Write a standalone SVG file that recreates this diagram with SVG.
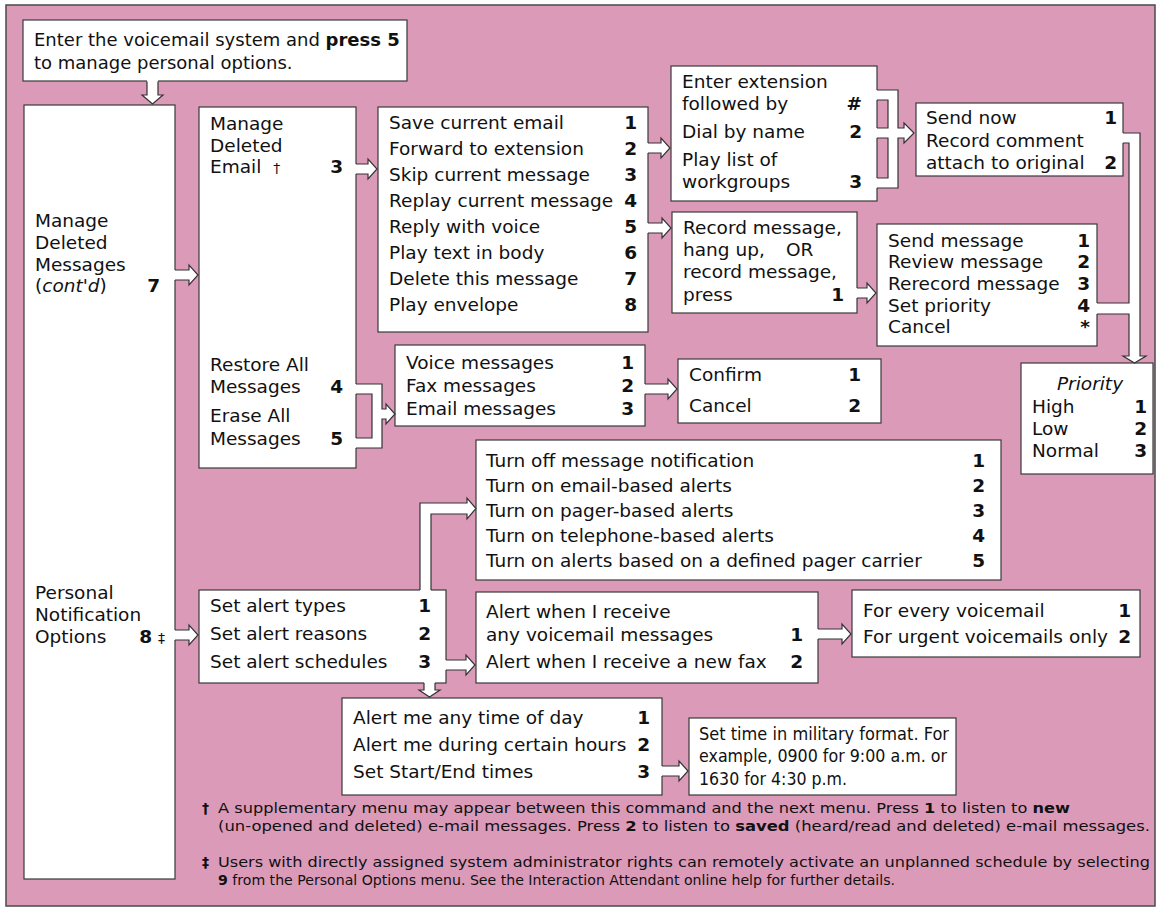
<svg xmlns="http://www.w3.org/2000/svg" width="1160" height="915" viewBox="0 0 1160 915">
<style>
text{font-family:"DejaVu Sans",Verdana,sans-serif;font-size:18.5px;fill:#111}
.b{font-weight:bold}
.n{font-weight:bold;text-anchor:end}
.i{font-style:italic}
.bx{fill:#fff;stroke:#3a3a3a;stroke-width:1.2}
.cf{fill:#fff;stroke:none}
.cs{fill:none;stroke:#333;stroke-width:1.2;stroke-linejoin:miter}
.fn{font-size:14px}
.sm{font-size:14px}
.tp{font-size:18px}
.st{font-size:17.5px}
</style>
<rect x="6" y="5" width="1149" height="901" fill="#dc9ab9" stroke="#4a4a4a" stroke-width="1.5"/>

<g id="n-top">
<rect class="bx" x="23" y="20" width="384" height="61"/>
<text class="tp" x="34" y="46">Enter the voicemail system and <tspan class="b">press 5</tspan></text>
<text class="tp" x="34" y="69">to manage personal options.</text>
</g>

<g id="n-left">
<rect class="bx" x="24" y="105" width="151" height="774"/>
<text x="35" y="227">Manage</text>
<text x="35" y="249">Deleted</text>
<text x="35" y="271">Messages</text>
<text x="35" y="292">(<tspan class="i">cont'd</tspan>)</text>
<text class="n" x="160" y="292">7</text>
<text x="35" y="599">Personal</text>
<text x="35" y="621">Notification</text>
<text x="35" y="643">Options</text>
<text class="n" x="152" y="643">8</text>
<text class="sm" x="158" y="643">‡</text>
</g>

<g id="n-mde">
<rect class="bx" x="199" y="107" width="157" height="361"/>
<text x="210" y="130">Manage</text>
<text x="210" y="152">Deleted</text>
<text x="210" y="173">Email <tspan class="sm" dx="6">†</tspan></text>
<text class="n" x="343" y="173">3</text>
<text x="210" y="371">Restore All</text>
<text x="210" y="393">Messages</text>
<text class="n" x="343" y="393">4</text>
<text x="210" y="422">Erase All</text>
<text x="210" y="445">Messages</text>
<text class="n" x="343" y="445">5</text>
</g>

<g id="n-email">
<rect class="bx" x="378" y="107" width="270" height="225"/>
<text x="389" y="129">Save current email</text><text class="n" x="637" y="129">1</text>
<text x="389" y="155">Forward to extension</text><text class="n" x="637" y="155">2</text>
<text x="389" y="181">Skip current message</text><text class="n" x="637" y="181">3</text>
<text x="389" y="207">Replay current message</text><text class="n" x="637" y="207">4</text>
<text x="389" y="233">Reply with voice</text><text class="n" x="637" y="233">5</text>
<text x="389" y="259">Play text in body</text><text class="n" x="637" y="259">6</text>
<text x="389" y="285">Delete this message</text><text class="n" x="637" y="285">7</text>
<text x="389" y="311">Play envelope</text><text class="n" x="637" y="311">8</text>
</g>

<g id="n-ext">
<rect class="bx" x="671" y="66" width="206" height="135"/>
<text x="682" y="88">Enter extension</text>
<text x="682" y="110">followed by</text><text class="n" x="862" y="110">#</text>
<text x="682" y="138">Dial by name</text><text class="n" x="862" y="138">2</text>
<text x="682" y="166">Play list of</text>
<text x="682" y="188">workgroups</text><text class="n" x="862" y="188">3</text>
</g>

<g id="n-sendnow">
<rect class="bx" x="916" y="103" width="207" height="73"/>
<text x="926" y="124">Send now</text><text class="n" x="1117" y="124">1</text>
<text x="926" y="147">Record comment</text>
<text x="926" y="169">attach to original</text><text class="n" x="1117" y="169">2</text>
</g>

<g id="n-record">
<rect class="bx" x="672" y="212" width="185" height="101"/>
<text x="683" y="234">Record message,</text>
<text x="683" y="256">hang up,</text><text x="786" y="256">OR</text>
<text x="683" y="278">record message,</text>
<text x="683" y="301">press</text><text class="n" x="844" y="301">1</text>
</g>

<g id="n-sendmsg">
<rect class="bx" x="877" y="224" width="220" height="122"/>
<text x="888" y="247">Send message</text><text class="n" x="1090" y="247">1</text>
<text x="888" y="268">Review message</text><text class="n" x="1090" y="268">2</text>
<text x="888" y="290">Rerecord message</text><text class="n" x="1090" y="290">3</text>
<text x="888" y="312">Set priority</text><text class="n" x="1090" y="312">4</text>
<text x="888" y="333">Cancel</text><text class="n" x="1090" y="333">*</text>
</g>

<g id="n-priority">
<rect class="bx" x="1021" y="363" width="132" height="111"/>
<text class="i" x="1090" y="390" text-anchor="middle">Priority</text>
<text x="1032" y="413">High</text><text class="n" x="1147" y="413">1</text>
<text x="1032" y="435">Low</text><text class="n" x="1147" y="435">2</text>
<text x="1032" y="457">Normal</text><text class="n" x="1147" y="457">3</text>
</g>

<g id="n-voice">
<rect class="bx" x="395" y="345" width="250" height="81"/>
<text x="406" y="369">Voice messages</text><text class="n" x="634" y="369">1</text>
<text x="406" y="392">Fax messages</text><text class="n" x="634" y="392">2</text>
<text x="406" y="415">Email messages</text><text class="n" x="634" y="415">3</text>
</g>

<g id="n-confirm">
<rect class="bx" x="678" y="359" width="203" height="64"/>
<text x="689" y="381">Confirm</text><text class="n" x="861" y="381">1</text>
<text x="689" y="412">Cancel</text><text class="n" x="861" y="412">2</text>
</g>

<g id="n-notif">
<rect class="bx" x="476" y="440" width="525" height="140"/>
<text x="486" y="467">Turn off message notification</text><text class="n" x="985" y="467">1</text>
<text x="486" y="492">Turn on email-based alerts</text><text class="n" x="985" y="492">2</text>
<text x="486" y="517">Turn on pager-based alerts</text><text class="n" x="985" y="517">3</text>
<text x="486" y="542">Turn on telephone-based alerts</text><text class="n" x="985" y="542">4</text>
<text x="486" y="567">Turn on alerts based on a defined pager carrier</text><text class="n" x="985" y="567">5</text>
</g>

<g id="n-setalert">
<rect class="bx" x="199" y="590" width="247" height="93"/>
<text x="210" y="612">Set alert types</text><text class="n" x="431" y="612">1</text>
<text x="210" y="640">Set alert reasons</text><text class="n" x="431" y="640">2</text>
<text x="210" y="668">Set alert schedules</text><text class="n" x="431" y="668">3</text>
</g>

<g id="n-alert">
<rect class="bx" x="476" y="592" width="342" height="91"/>
<text x="486" y="618">Alert when I receive</text>
<text x="486" y="641">any voicemail messages</text><text class="n" x="803" y="641">1</text>
<text x="486" y="668">Alert when I receive a new fax</text><text class="n" x="803" y="668">2</text>
</g>

<g id="n-forevery">
<rect class="bx" x="852" y="590" width="288" height="67"/>
<text x="863" y="617">For every voicemail</text><text class="n" x="1131" y="617">1</text>
<text x="863" y="643">For urgent voicemails only</text><text class="n" x="1131" y="643">2</text>
</g>

<g id="n-alertme">
<rect class="bx" x="342" y="698" width="320" height="97"/>
<text x="353" y="724">Alert me any time of day</text><text class="n" x="650" y="724">1</text>
<text x="353" y="751">Alert me during certain hours</text><text class="n" x="650" y="751">2</text>
<text x="353" y="778">Set Start/End times</text><text class="n" x="650" y="778">3</text>
</g>

<g id="n-settime">
<rect class="bx" x="689" y="718" width="267" height="77"/>
<text class="st" x="699" y="740" textLength="250" lengthAdjust="spacingAndGlyphs">Set time in military format. For</text>
<text class="st" x="699" y="762" textLength="248" lengthAdjust="spacingAndGlyphs">example, 0900 for 9:00 a.m. or</text>
<text class="st" x="699" y="785" textLength="148" lengthAdjust="spacingAndGlyphs">1630 for 4:30 p.m.</text>
</g>

<g id="connectors">
<path class="cf" d="M147,80 V95 H142 L152.5,104 L163,95 H158 V80 Z"/>
<path class="cs" d="M147,81.5 V95 H142 L152.5,104 L163,95 H158 V81.5"/>

<path class="cf" d="M174,270 H189 V265 L198,275 L189,285 V280 H174 Z"/>
<path class="cs" d="M175,270 H189 V265 L198,275 L189,285 V280 H175"/>

<path class="cf" d="M174,630 H189 V625 L198,635 L189,645 V640 H174 Z"/>
<path class="cs" d="M175,630 H189 V625 L198,635 L189,645 V640 H175"/>

<path class="cf" d="M355,164 H368 V159 L377,169 L368,179 V174 H355 Z"/>
<path class="cs" d="M356,164 H368 V159 L377,169 L368,179 V174 H356"/>

<path class="cf" d="M647,143 H661 V138 L670,148 L661,158 V153 H647 Z"/>
<path class="cs" d="M648,143 H661 V138 L670,148 L661,158 V153 H648"/>

<path class="cf" d="M647,223 H662 V218 L671,228 L662,238 V233 H647 Z"/>
<path class="cs" d="M648,223 H662 V218 L671,228 L662,238 V233 H648"/>

<path class="cf" d="M876,90 H898 V128 H904 V123 L914,133 L904,143 V138 H898 V188 H876 V178 H888 V138 H876 V128 H888 V100 H876 Z"/>
<path class="cs" d="M877,90 H898 V128 H904 V123 L914,133 L904,143 V138 H898 V188 H877 M877,178 H888 V138 H877 M877,128 H888 V100 H877"/>

<path class="cf" d="M856,288 H867 V283 L876,293 L867,303 V298 H856 Z"/>
<path class="cs" d="M857,288 H867 V283 L876,293 L867,303 V298 H857"/>

<path class="cf" d="M1122,133 H1140 V356 H1146 L1134.5,363 L1123,356 H1129 V314 H1096 V303 H1129 V143 H1122 Z"/>
<path class="cs" d="M1123,133 H1140 V356 H1146 L1134.5,363 L1123,356 H1129 V314 H1097 M1097,303 H1129 V143 H1123"/>

<path class="cf" d="M355,384 H382 V409 H386 V404 L395,414 L386,424 V419 H382 V448 H355 V438 H372 V394 H355 Z"/>
<path class="cs" d="M356,384 H382 V409 H386 V404 L395,414 L386,424 V419 H382 V448 H356 M356,438 H372 V394 H356"/>

<path class="cf" d="M644,384 H668 V379 L677,389 L668,399 V394 H644 Z"/>
<path class="cs" d="M645,384 H668 V379 L677,389 L668,399 V394 H645"/>

<path class="cf" d="M420,591 V503 H467 V498 L476,508.5 L467,519 V514 H431 V591 Z"/>
<path class="cs" d="M420,590 V503 H467 V498 L476,508.5 L467,519 V514 H431 V590"/>

<path class="cf" d="M817,629 H842 V624 L851,634 L842,644 V639 H817 Z"/>
<path class="cs" d="M818,629 H842 V624 L851,634 L842,644 V639 H818"/>

<path class="cf" d="M445,660 H466 V655 L475,665 L466,675 V670 H445 Z"/>
<path class="cs" d="M446,660 H466 V655 L475,665 L466,675 V670 H446"/>

<path class="cf" d="M424,682 V690 H419 L429.5,697 L440,690 H435 V682 Z"/>
<path class="cs" d="M424,683 V690 H419 L429.5,697 L440,690 H435 V683"/>

<path class="cf" d="M661,766 H679 V761 L688,771 L679,781 V776 H661 Z"/>
<path class="cs" d="M662,766 H679 V761 L688,771 L679,781 V776 H662"/>
</g>

<g id="footnotes">
<text class="fn b" x="202" y="813">†</text>
<text class="fn" x="218" y="813" textLength="852" lengthAdjust="spacingAndGlyphs">A supplementary menu may appear between this command and the next menu.  Press <tspan class="b">1</tspan> to listen to <tspan class="b">new</tspan></text>
<text class="fn" x="218" y="831" textLength="932" lengthAdjust="spacingAndGlyphs">(un-opened and deleted) e-mail messages. Press <tspan class="b">2</tspan> to listen to <tspan class="b">saved</tspan> (heard/read and deleted) e-mail messages.</text>
<text class="fn b" x="202" y="867">‡</text>
<text class="fn" x="218" y="867" textLength="932" lengthAdjust="spacingAndGlyphs">Users with directly assigned system administrator rights can remotely activate an unplanned schedule by selecting</text>
<text class="fn" x="218" y="885" textLength="677" lengthAdjust="spacingAndGlyphs"><tspan class="b">9</tspan> from the Personal Options menu. See the Interaction Attendant online help for further details.</text>
</g>
</svg>
